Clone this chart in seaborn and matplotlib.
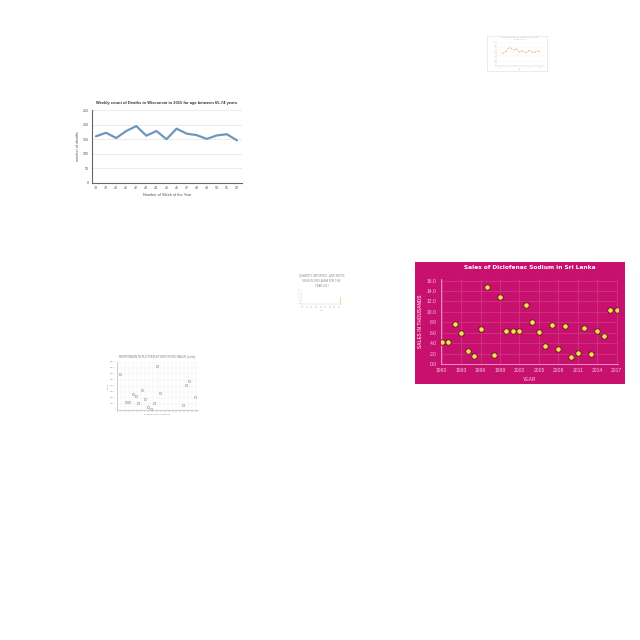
import numpy as np
import pandas as pd
import seaborn as sns
from matplotlib import pyplot as plt

# weekly deaths (line chart, top left)
weeks = ["38", "39", "40", "41", "42", "43", "44", "45", "46", "47", "48", "49", "50", "51", "52"]
deaths = [160, 172, 154, 178, 195, 162, 178, 150, 186, 169, 164, 151, 163, 167, 146]

# diclofenac sales (pink scatter, right)
sales_years = list(range(1990, 2018))
sales = [4.2, 4.3, 7.6, 5.9, 2.4, 1.6, 6.8, 14.8, 1.8, 12.8, 6.4, 6.4, 6.4, 11.3,
         8.0, 6.2, 3.4, 7.4, 2.8, 7.2, 1.4, 2.2, 6.9, 2.0, 6.3, 5.4, 10.4, 10.3]
year_ticks = [1990, 1993, 1996, 1999, 2002, 2005, 2008, 2011, 2014, 2017]

# small grey scatter (bottom left)
small_x = [0.7, 2.3, 3.1, 4.0, 4.7, 5.4, 6.3, 7.0, 7.8, 8.6, 9.3, 10.1, 11.0, 16.7, 17.4, 18.2, 19.7]
small_y = [600000, 130000, 130000, 260000, 230000, 120000, 330000, 190000, 50000, 20000,
           120000, 730000, 290000, 90000, 420000, 480000, 210000]

# tiny bar chart (middle)
bar_labels = ["2009", "2010", "2011", "2012", "2013", "2014", "2015", "2016", "2017"]
bar_values = [0.4, 0.3, 0.2, 0.3, 0.2, 0.3, 0.4, 0.5, 13.0]

# tiny line chart (top right)
tiny_x = list(range(1, 21))
tiny_y = [52, 55, 60, 72, 78, 70, 66, 74, 62, 58, 64, 60, 56, 62, 66, 58, 55, 60, 63, 59]


def box(x0, y0, x1, y1):
    return [x0 / 640, 1 - y1 / 640, (x1 - x0) / 640, (y1 - y0) / 640]


sns.set_theme(style="white")
plt.rcParams['font.family'] = ['Liberation Sans', 'DejaVu Sans']

fig = plt.figure(figsize=(6.4, 6.4), dpi=100)
fig.patch.set_facecolor("white")

# ---- line chart
ax = fig.add_axes(box(92, 110, 242, 183))
line_df = pd.DataFrame({"week": range(len(weeks)), "deaths": deaths})
sns.lineplot(data=line_df, x="week", y="deaths", ax=ax, color="#7096bb", linewidth=1.6)
ax.set_xlim(-0.4, 14.5)
ax.set_ylim(0, 250)
ax.set_xticks(range(len(weeks)))
ax.set_xticklabels(weeks)
ax.set_yticks(range(0, 251, 50))
ax.yaxis.grid(True, color="#e3e3e3", linewidth=0.5)
ax.tick_params(labelsize=2.6, colors="#555555", length=0, pad=2)
for s in ["top", "right"]:
    ax.spines[s].set_visible(False)
ax.spines["left"].set_color("#666666")
ax.spines["bottom"].set_color("#666666")
ax.spines["left"].set_linewidth(0.8)
ax.spines["bottom"].set_linewidth(0.8)
ax.set_xlabel("Number of Week of the Year", fontsize=2.8, color="#555555", labelpad=2)
ax.set_ylabel("number of deaths", fontsize=2.8, color="#555555", labelpad=2)
ax.set_title("Weekly count of Deaths in Wisconsin in 2015 for age between 65-74 years",
             fontsize=2.9, color="#333333", fontweight="bold", pad=4)

# ---- pink scatter
bg = fig.add_axes(box(415, 262, 625, 384))
bg.set_facecolor("#c8106e")
bg.set_xticks([])
bg.set_yticks([])
for s in bg.spines.values():
    s.set_visible(False)

ax = fig.add_axes(box(441, 279, 618, 364))
ax.patch.set_alpha(0)
sales_df = pd.DataFrame({"year": sales_years, "sales": sales})
sns.scatterplot(data=sales_df, x="year", y="sales", ax=ax, color="#f7e04c",
                edgecolor="#6e1630", linewidth=0.7, s=16, zorder=3)
ax.set_xlim(1989.9, 2017.2)
ax.set_ylim(0, 16.3)
ax.set_xticks(year_ticks)
ax.set_yticks(np.arange(0, 16.1, 2))
ax.set_yticklabels([f"{v:.1f}" for v in np.arange(0, 16.1, 2)])
ax.grid(True, color="#d03c85", linewidth=0.5)
ax.tick_params(labelsize=3.6, colors="#f6c6dc", length=0, pad=3)
for s in ["top", "right"]:
    ax.spines[s].set_visible(False)
ax.spines["left"].set_color("#f0a9cb")
ax.spines["bottom"].set_color("#f0a9cb")
ax.spines["left"].set_linewidth(0.6)
ax.spines["bottom"].set_linewidth(0.6)
ax.set_xlabel("YEAR", fontsize=3.6, color="#f6c6dc", labelpad=3)
ax.set_ylabel("SALES IN THOUSANDS", fontsize=3.4, color="#f6c6dc", labelpad=3, fontweight="bold")
ax.set_title("Sales of Diclofenac Sodium in Sri Lanka", fontsize=4.2, color="white",
             fontweight="bold", family="DejaVu Sans", pad=7)

# ---- small grey scatter
ax = fig.add_axes(box(117, 362, 198, 410))
sns.scatterplot(x=small_x, y=small_y, ax=ax, color="white", edgecolor="#999999",
                linewidth=0.4, s=3)
ax.set_xlim(0, 20.5)
ax.set_ylim(0, 800000)
ax.set_xticks(range(0, 21))
ax.set_yticks(range(0, 800001, 100000))
ax.grid(True, color="#eeeeee", linewidth=0.3)
ax.tick_params(labelsize=1.2, colors="#888888", length=0, pad=1)
for s in ["top", "right"]:
    ax.spines[s].set_visible(False)
ax.spines["left"].set_color("#aaaaaa")
ax.spines["bottom"].set_color("#aaaaaa")
ax.spines["left"].set_linewidth(0.4)
ax.spines["bottom"].set_linewidth(0.4)
ax.set_xlabel("NUMBER OF RESPONDENTS", fontsize=1.4, color="#888888", labelpad=1)
ax.set_ylabel("VALUE", fontsize=1.4, color="#888888", labelpad=1)
ax.set_title("RESPONDENTS PLOTTED BY REPORTED VALUE (units)", fontsize=2.1,
             color="#777777", pad=3)

# ---- tiny bar chart
ax = fig.add_axes(box(301, 290, 342, 304))
sns.barplot(x=bar_labels, y=bar_values, ax=ax, color="#f2dc3c", width=0.35)
ax.set_ylim(0, 24)
ax.set_yticks([0, 6, 12, 18, 24])
ax.tick_params(labelsize=1.3, colors="#999999", length=0, pad=0.5)
ax.tick_params(axis="x", rotation=45)
for s in ["top", "right"]:
    ax.spines[s].set_visible(False)
ax.spines["left"].set_color("#cccccc")
ax.spines["bottom"].set_color("#cccccc")
ax.spines["left"].set_linewidth(0.3)
ax.spines["bottom"].set_linewidth(0.3)
ax.set_xlabel("Year", fontsize=1.3, color="#999999", labelpad=1)
ax.set_ylabel("")
ax.set_title("QUANTITY IMPORTED - ANTI-BIOTIC\nDRUG IN SRI LANKA FOR THE\nYEAR 2017",
             fontsize=1.9, color="#888888", pad=2, linespacing=1.4)

# ---- tiny line chart
bg = fig.add_axes(box(487, 36, 547, 71))
bg.set_xticks([])
bg.set_yticks([])
for s in bg.spines.values():
    s.set_color("#dddddd")
    s.set_linewidth(0.4)

ax = fig.add_axes(box(496, 42, 544, 66))
ax.patch.set_alpha(0)
sns.lineplot(x=tiny_x, y=tiny_y, ax=ax, color="#f0a060", linewidth=0.5, linestyle="--")
ax.set_ylim(0, 100)
ax.set_xlim(-2, 22)
ax.grid(True, axis="y", color="#f0f0f0", linewidth=0.3)
ax.tick_params(labelsize=1.0, colors="#aaaaaa", length=0, pad=0.5)
for s in ["top", "right"]:
    ax.spines[s].set_visible(False)
ax.spines["left"].set_color("#cccccc")
ax.spines["bottom"].set_color("#cccccc")
ax.spines["left"].set_linewidth(0.3)
ax.spines["bottom"].set_linewidth(0.3)
ax.set_xlabel("Year", fontsize=1.1, color="#aaaaaa", labelpad=1)
ax.set_title("SALES OF ANTIBIOTIC DRUGS IN SRI LANKA\nBY QUANTITY", fontsize=1.3,
             color="#aaaaaa", pad=1.5)

fig.savefig("out.png", dpi=100)
